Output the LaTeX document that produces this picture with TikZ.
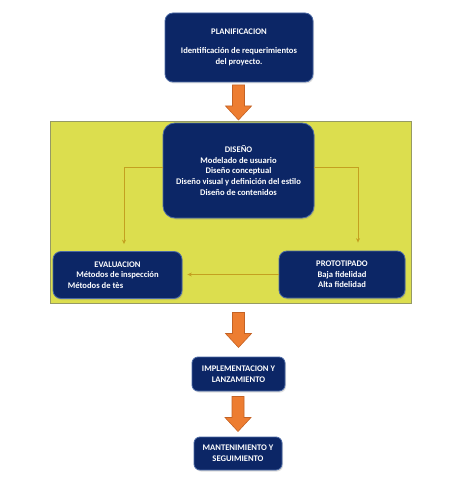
\documentclass[tikz,border=0pt]{standalone}
\usepackage{fontspec}
\setmainfont{Carlito}
\usetikzlibrary{positioning,arrows.meta,calc,shadows}
\definecolor{azul}{RGB}{12,38,102}
\definecolor{bordeazul}{RGB}{75,105,165}
\definecolor{amarillo}{RGB}{220,222,78}
\definecolor{bordeamarillo}{RGB}{150,154,100}
\definecolor{naranja}{RGB}{237,125,49}
\definecolor{bordenaranja}{RGB}{196,98,36}
\definecolor{dorado}{RGB}{196,160,32}
\tikzset{
fase/.style={
draw=bordeazul,
line width=0.8pt,
fill=azul,
text=white,
rounded corners=8pt,
align=center,
inner sep=2pt,
font=\fontsize{8.6}{10.6}\selectfont\bfseries,
drop shadow={opacity=0.25,shadow xshift=1pt,shadow yshift=-1.5pt}
},
zona/.style={
draw=bordeamarillo,
line width=0.8pt,
fill=amarillo
},
conector/.style={
-{Stealth[length=4.5pt,width=4pt]},
draw=dorado,
line width=0.7pt
},
bloque/.style={
fill=naranja,
draw=bordenaranja,
line width=0.6pt
}
}
\newcommand{\flechabloque}[2]{%
\path ($(#2.north)!0.5!(#2.north |- #1.south)$) coordinate (m);
\draw[bloque] ([shift={(-6,-17.5)}]m) -- ([shift={(6,-17.5)}]m)
  -- ([shift={(6,3.5)}]m) -- ([shift={(13,3.5)}]m) -- ([shift={(0,17.5)}]m)
  -- ([shift={(-13,3.5)}]m) -- ([shift={(-6,3.5)}]m) -- cycle;}
\begin{document}
\begin{tikzpicture}[x=1pt,y=-1pt]
\useasboundingbox (0,0) rectangle (474,492);

\node[zona,minimum width=361pt,minimum height=182pt](fase) at (230.5,212){};

\node[fase,minimum width=148pt,minimum height=69pt](plan) at (239,47.5){PLANIFICACION\\[8.5pt]Identificación de requerimientos\\del proyecto.};
\node[fase,rounded corners=12pt,minimum width=151pt,minimum height=95pt](diseno) at (238.5,170.5){DISEÑO\\Modelado de usuario\\Diseño conceptual\\Diseño visual y definición del estilo\\Diseño de contenidos};
\node[fase,minimum width=129pt,minimum height=47pt](eval) at (117.5,275){EVALUACION\\Métodos de inspección\\Métodos de tès\hspace*{44pt}};
\node[fase,minimum width=126pt,minimum height=47pt](proto) at (342,274.5){PROTOTIPADO\\Baja fidelidad\\Alta fidelidad};
\node[fase,rounded corners=6pt,minimum width=93pt,minimum height=34pt](impl) at (238.5,374){IMPLEMENTACION Y\\LANZAMIENTO};
\node[fase,rounded corners=6pt,minimum width=88pt,minimum height=33pt](mant) at (238,453.5){MANTENIMIENTO Y\\SEGUIMIENTO};

\draw[conector]([yshift=3.5pt]diseno.west) -| ([shift={(6.5,-7)}]eval.north);
\draw[conector]([yshift=3.5pt]diseno.east) -| ([shift={(16,-8)}]proto.north);
\draw[conector](proto.west) -- ([xshift=5pt]eval.east |- proto.west);

\foreach \x/\y in {plan/diseno,fase/impl,impl/mant}
\flechabloque{\x}{\y};

\end{tikzpicture}
\end{document}
